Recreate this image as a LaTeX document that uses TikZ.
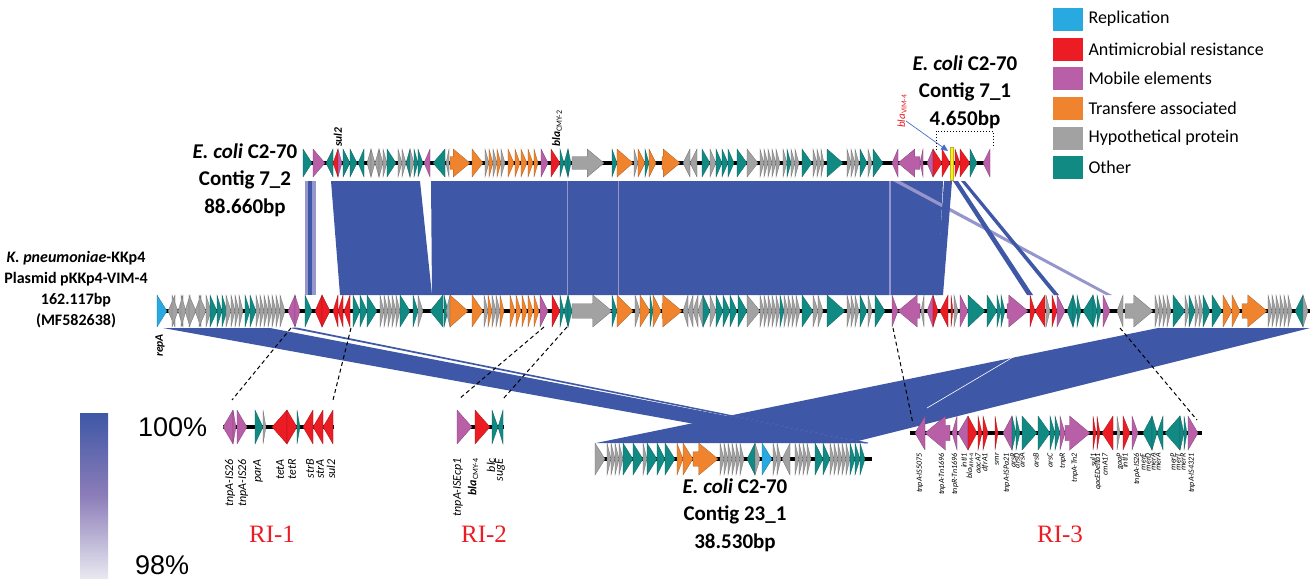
\documentclass[tikz,border=0pt]{standalone}
\usepackage{fontspec}
\setmainfont{Carlito}
\newfontfamily\serifrm{Liberation Serif}
\newfontfamily\helv{Liberation Sans}
\usetikzlibrary{arrows.meta}
\definecolor{gT}{RGB}{18,138,132}
\definecolor{gR}{RGB}{236,28,36}
\definecolor{gP}{RGB}{185,95,168}
\definecolor{gO}{RGB}{240,132,46}
\definecolor{gG}{RGB}{162,162,162}
\definecolor{gB}{RGB}{40,170,225}
\definecolor{rib}{RGB}{62,87,166}
\definecolor{ribL}{RGB}{150,150,205}
\definecolor{barmid}{RGB}{140,125,185}
\definecolor{barlow}{RGB}{232,232,240}
\definecolor{arrblue}{RGB}{70,110,200}
\newcommand\tky{0}
\newcommand\tkh{0}
\newcommand\gn[3]{%
  \pgfmathsetmacro\gl{abs(#2-#1)}%
  \pgfmathsetmacro\gs{(#2>#1)?1:-1}%
  \pgfmathsetmacro\gh{min(\gl,1.2*\tkh)}%
  \pgfmathsetmacro\gx{#2-\gs*\gh}%
  \pgfmathsetmacro\gb{0.45*\tkh}%
  \filldraw[fill=#3,draw=#3!65!black,line width=0.25pt]
    (#1,\tky-\gb) -- (\gx,\tky-\gb) -- (\gx,\tky-\tkh) -- (#2,\tky) -- (\gx,\tky+\tkh) -- (\gx,\tky+\gb) -- (#1,\tky+\gb) -- cycle;}
\tikzset{
  trackline/.style={line width=4pt,black},
  ribbon/.style={fill=rib},
  ribbonlight/.style={fill=ribL},
  contiglabel/.style={align=center,font=\bfseries\fontsize{21}{27.5}\selectfont},
  lg/.style={anchor=west,font=\fontsize{18}{20}\selectfont},
  ri/.style={text=gR,font=\serifrm\fontsize{25}{30}\selectfont},
  glab/.style={rotate=90,anchor=east,inner sep=0pt,font=\itshape\fontsize{12}{13}\selectfont},
  glabs/.style={rotate=90,anchor=east,inner sep=0pt,font=\itshape\fontsize{8}{9}\selectfont},
  dashline/.style={dashed,line width=1pt,dash pattern=on 4pt off 3pt},
}
\begin{document}
\begin{tikzpicture}[x=1pt,y=-1pt]
\useasboundingbox (0,0) rectangle (1313,582);

% ---------- ribbons top -> middle
\fill[ribbonlight] (305,181) rectangle (316,295);
\fill[ribbon] (308,181) rectangle (312,295);
\fill[ribbon] (331,181) -- (420,181) -- (432,295) -- (340,295) -- cycle;
\fill[ribbon] (431,181) -- (943,181) -- (938,295) -- (432,295) -- cycle;
\draw[ribL,line width=0.6pt] (567,181) -- (567,295) (618,181) -- (618,295);
\draw[ribL,line width=1.5pt] (890,181) -- (890,295);
\fill[ribbonlight] (893,181) -- (900,181) -- (1112,295) -- (1106,295) -- cycle;
\fill[ribbon] (944,181) -- (952,181) -- (943,295) -- (936,295) -- cycle;
\fill[ribbon] (953,181) -- (958,181) -- (1033,295) -- (1027,295) -- cycle;
\fill[ribbon] (961,181) -- (965,181) -- (1059,295) -- (1054,295) -- cycle;

% ---------- ribbons middle -> bottom
\fill[ribbon] (1158,328) -- (1310,328) -- (850,443) -- (596,443) -- cycle;
\fill[ribbon] (163,328) -- (270,328) -- (868,443) -- (800,443) -- cycle;
\draw[white,line width=0.6pt] (1020,353) -- (927,408);
\filldraw[fill=white,draw=rib,line width=0.8pt] (292,328) -- (297,328) -- (868,443) -- (865,443) -- cycle;

% ---------- dashed connectors
\coordinate (m1) at (291,328); \coordinate (r1a) at (232,400);
\coordinate (m2) at (351,328); \coordinate (r1b) at (333,400);
\coordinate (m3) at (544,327); \coordinate (r2a) at (459,399);
\coordinate (m4) at (567,327); \coordinate (r2b) at (503,399);
\coordinate (m5) at (893,328); \coordinate (r3a) at (913,424);
\coordinate (m6) at (1120,328); \coordinate (r3b) at (1197,420);
\draw[dashline] (m1) -- (r1a) (m2) -- (r1b) (m3) -- (r2a) (m4) -- (r2b) (m5) -- (r3a) (m6) -- (r3b);

% ---------- top track (Contig 7_2 + 7_1)
\renewcommand\tky{163}\renewcommand\tkh{14}
\draw[trackline] (303,163) -- (990,163);
\foreach \a/\b/\c in {303/312/gT,313/325/gP,333/326/gT,338/333/gR,338/342/gP,343/350/gT,350/357/gT,364/358/gT,
 371/367/gG,371/375/gG,379/375/gG,379/383/gG,383/387/gG,387/396/gT,398/402/gG,402/406/gG,410/406/gT,410/414/gG,414/418/gT,418/423/gT,
 430/424/gP,445/433/gT,449/446/gG,450/470/gO,472/483/gO,485/489/gG,489/493/gO,493/497/gG,497/501/gO,501/505/gG,508/514/gO,515/520/gO,521/527/gO,528/533/gO,534/538/gO,541/548/gP,551/560/gR,560/564/gT,568/564/gT,568/571/gT,572/604/gG,
 612/617/gT,617/633/gO,634/638/gG,638/645/gO,645/649/gT,649/656/gO,662/680/gO,690/683/gG,697/690/gG,702/710/gT,710/716/gG,716/722/gT,722/728/gT,728/734/gT,737/747/gT,747/758/gG,
 760/764/gG,764/768/gG,768/772/gG,772/776/gG,776/780/gG,783/787/gG,787/791/gT,791/795/gG,795/799/gG,802/812/gT,813/817/gG,817/821/gG,821/824/gG,827/843/gT,847/851/gG,851/855/gG,855/859/gG,860/867/gT,868/872/gG,873/883/gT,
 898/892/gP,920/898/gP,923/920/gP,933/927/gP,933/942/gR,942/950/gR,955/960/gR,960/970/gR,970/977/gT,990/983/gP}
 {\gn{\a}{\b}{\c}}
\filldraw[fill=yellow,draw=yellow!70!black,line width=0.3pt] (950,147) rectangle (953,180);

% ---------- middle track (pKKp4)
\renewcommand\tky{311}\renewcommand\tkh{16}
\draw[trackline] (157,311) -- (1310,311);
\foreach \a/\b/\c in {157/167/gB,175/168/gG,172/178/gG,183/178/gG,181/186/gG,190/185/gG,189/196/gG,201/195/gG,199/206/gG,206/211/gG,210/217/gT,217/222/gT,222/227/gT,226/231/gG,231/235/gG,235/239/gG,239/243/gG,245/250/gT,250/256/gT,256/260/gG,260/264/gG,264/268/gG,268/272/gG,272/276/gG,276/280/gG,280/285/gG,
 295/288/gP,295/300/gP,305/312/gT,322/315/gR,322/330/gR,338/333/gR,343/338/gR,350/344/gR,353/360/gT,360/367/gT,367/377/gT,380/384/gG,384/388/gG,388/392/gG,392/396/gG,396/400/gG,400/410/gT,413/418/gT,418/423/gG,443/430/gT,
 444/448/gT,450/446/gG,450/468/gO,472/483/gO,484/488/gG,488/492/gO,492/496/gG,496/500/gG,500/504/gO,510/515/gO,516/521/gO,522/527/gO,528/533/gO,534/539/gO,540/548/gP,552/560/gR,560/564/gT,568/564/gT,568/572/gT,572/612/gG,
 612/617/gT,617/633/gO,635/640/gG,640/650/gO,650/653/gT,653/661/gO,662/682/gO,688/683/gG,693/688/gG,698/693/gG,703/698/gG,703/710/gT,710/716/gG,716/723/gT,723/730/gT,730/737/gT,738/747/gT,747/760/gG,
 760/764/gG,764/768/gG,768/772/gG,772/776/gG,776/780/gG,780/784/gT,784/788/gG,788/792/gG,792/796/gG,796/800/gG,802/813/gT,813/818/gG,818/823/gG,827/845/gT,847/851/gG,851/855/gG,855/859/gG,860/867/gT,868/872/gG,875/885/gT,
 892/898/gP,920/898/gP,924/921/gG,933/927/gP,933/938/gR,948/940/gR,951/953/gR,954/958/gG,960/968/gP,968/985/gT,987/997/gT,997/1001/gT,1001/1005/gT,1007/1028/gP,1030/1035/gR,1045/1035/gR,1046/1050/gG,1052/1057/gR,1057/1065/gP,
 1073/1067/gT,1073/1077/gT,1077/1081/gT,1093/1083/gT,1093/1097/gT,1097/1101/gT,1103/1110/gP,1123/1117/gG,1125/1153/gG,1155/1159/gG,1159/1163/gG,1163/1167/gG,1167/1171/gG,1173/1185/gT,1185/1189/gG,1189/1195/gT,1195/1199/gG,1199/1203/gG,1203/1210/gT,1212/1222/gT,
 1223/1232/gO,1232/1240/gO,1242/1267/gO,1268/1272/gG,1272/1276/gG,1276/1280/gG,1280/1284/gG,1284/1288/gG,1288/1292/gG,1303/1295/gT,1303/1308/gG}
 {\gn{\a}{\b}{\c}}

% ---------- Contig 23_1
\renewcommand\tky{459}\renewcommand\tkh{16}
\draw[trackline] (595,459) -- (872,459);
\foreach \a/\b/\c in {595/605/gG,607/611/gG,611/615/gG,615/619/gG,619/623/gG,623/633/gT,633/643/gT,643/647/gG,647/657/gT,657/665/gT,665/675/gT,677/683/gO,683/693/gO,693/718/gO,
 720/724/gG,724/728/gG,728/732/gG,732/736/gG,736/740/gG,740/744/gG,755/747/gT,755/760/gG,762/772/gB,773/777/gG,777/781/gG,790/782/gG,795/799/gG,799/803/gG,803/807/gG,807/811/gG,815/823/gT,823/830/gT,830/834/gG,834/838/gG,838/842/gG,842/846/gG,846/850/gG,850/855/gT,855/860/gT,860/865/gT}
 {\gn{\a}{\b}{\c}}

% ---------- RI-1
\renewcommand\tky{427}\renewcommand\tkh{17}
\draw[trackline] (223,427) -- (334,427);
\foreach \a/\b/\c in {233/223/gP,233/236/gP,237/247/gP,255/263/gT,263/266/gG,287/272/gR,287/297/gR,297/300/gT,313/303/gR,323/313/gR,333/323/gR}
 {\gn{\a}{\b}{\c}}
% ---------- RI-2
\draw[trackline] (457,427) -- (504,427);
\foreach \a/\b/\c in {457/472/gP,475/490/gR,492/498/gT,503/498/gT}
 {\gn{\a}{\b}{\c}}
% ---------- RI-3
\renewcommand\tky{433}
\draw[trackline] (910,433) -- (1202,433);
\foreach \a/\b/\c in {925/915/gP,950/925/gP,957/952/gP,968/958/gP,968/977/gR,978/982/gR,983/988/gR,995/998/gR,1012/1003/gP,1012/1016/gT,1016/1020/gT,1022/1037/gT,1038/1050/gT,1050/1055/gT,1055/1060/gT,1060/1065/gP,1065/1090/gP,
 1093/1096/gR,1097/1100/gR,1113/1102/gR,1117/1120/gG,1123/1130/gR,1132/1138/gP,1152/1143/gT,1152/1157/gT,1163/1157/gT,1180/1165/gT,1180/1184/gT,1184/1187/gT,1188/1198/gP}
 {\gn{\a}{\b}{\c}}

% ---------- contig 7_1 bracket and bla arrow
\draw[dotted,line width=1pt] (936,150) -- (936,131) -- (993,131) -- (993,148);
\node[rotate=90,anchor=west,inner sep=0pt,text=gR,font=\itshape\fontsize{11}{12}\selectfont] (vim) at (902,128) {bla\textsubscript{\upshape VIM-4}};
\draw[arrblue,line width=0.7pt,-{Triangle[length=7pt,width=6pt]}] (906,121) -- (948,151);

% ---------- top track labels
\node[rotate=90,anchor=west,inner sep=0pt,font=\bfseries\itshape\fontsize{11.5}{12}\selectfont] (sul2top) at (338,147) {sul2};
\node[rotate=90,anchor=west,inner sep=0pt,font=\fontsize{11.5}{12}\selectfont] (cmytop) at (557,147) {\textbf{\textit{bla}}\textsubscript{CMY-2}};
\node[rotate=90,anchor=east,inner sep=0pt,font=\bfseries\itshape\fontsize{11.5}{12}\selectfont] (repa) at (160,334) {repA};

% ---------- contig titles
\node[contiglabel] (c72) at (245,180) {\textit{E. coli} C2-70\\Contig 7\_2\\88.660bp};
\node[contiglabel] (c71) at (965,92) {\textit{E. coli} C2-70\\Contig 7\_1\\4.650bp};
\node[contiglabel] (c231) at (735,515) {\textit{E. coli} C2-70\\Contig 23\_1\\38.530bp};
\node[align=center,font=\bfseries\fontsize{16}{21}\selectfont] (kp) at (76,290) {\textit{K. pneumoniae}-KKp4\\Plasmid pKKp4-VIM-4\\162.117bp\\(MF582638)};

% ---------- RI labels
\node[ri] (ri1) at (272,534) {RI-1};
\node[ri] (ri2) at (484,534) {RI-2};
\node[ri] (ri3) at (1060,534) {RI-3};

% ---------- gene names RI-1
\foreach \x/\t in {230/tnpA-IS26,243/tnpA-IS26,258/parA,280/tetA,292/tetR,310/strB,320/strA,331/sul2}
 \node[glab] at (\x,459) {\t};
% RI-2
\node[glab] at (458,458) {tnpA-ISEcp1};
\node[glab] at (473,458) {\textbf{bla}\textsubscript{\upshape CMY-4}};
\node[glab] at (491,458) {blc};
\node[glab] at (500,458) {sugE};
% RI-3
\foreach \x/\t in {920/tnpA-IS5075,942/tnpA-Tn1696,955/tnpR-Tn1696,964/intI1,978/aacA7,985/dfrA1,997/smr,1007/tnpA-ISPa21,1013/arsR,1017/arsD,1022/arsA,1036/arsB,1050/arsC,1063/tnpR,1075/tnpA-Tn2,
 1093/sul1,1098/qacEDelta1,1105/cmA17,1120/gaaP,1125/intI1,1137/tnpA-IS26,1143/merE,1148/merD,1153/merA,1158/merA,1173/merP,1178/merT,1183/merR,1192/tnpA-IS4321}
 \node[glabs] at (\x,453) {\t};
\node[glabs] at (970,453) {bla\textsubscript{\upshape VIM-4}};

% ---------- legend
\foreach \c/\t/\y in {gB/Replication/19,gR/Antimicrobial resistance/49.5,gP/Mobile elements/78.5,gO/Transfere associated/108.5,gG/Hypothetical protein/138,gT/Other/167.5}{
  \fill[\c] (1053,\y-11.5) rectangle (1083,\y+11.5);
  \node[lg] at (1085,\y) {\t};
}

% ---------- colour bar
\shade[top color=rib,bottom color=barlow,middle color=barmid] (80,413) rectangle (108,578);
\node[anchor=west,inner sep=0pt,font=\helv\fontsize{27}{30}\selectfont] (p100) at (138,427) {100\%};
\node[anchor=west,inner sep=0pt,font=\helv\fontsize{27}{30}\selectfont] (p98) at (135,565) {98\%};
\end{tikzpicture}
\end{document}
